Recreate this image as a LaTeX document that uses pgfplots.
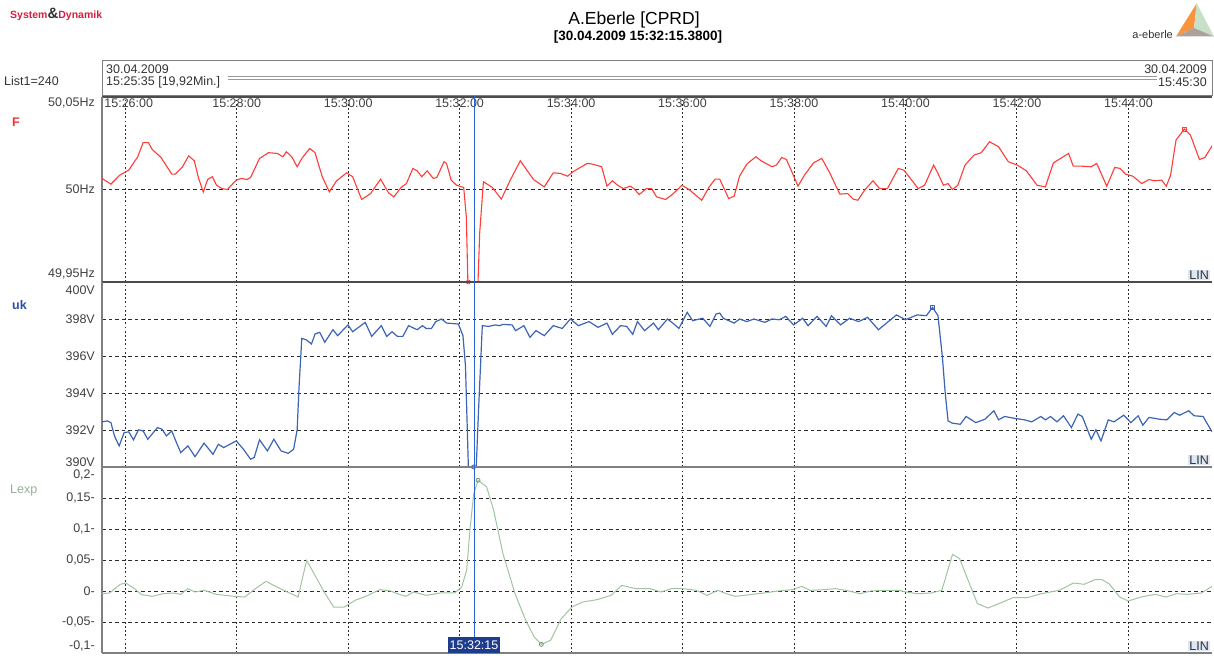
\documentclass[border=0pt]{standalone}
\usepackage{fontspec}
\setmainfont{Liberation Sans}
\usepackage{pgfplots}
\pgfplotsset{compat=1.18}
\definecolor{fred}{RGB}{255,60,55}
\definecolor{ukblue}{RGB}{60,100,180}
\definecolor{lexpg}{RGB}{160,196,160}
\definecolor{gridc}{RGB}{40,45,40}
\definecolor{curbg}{RGB}{30,60,140}
\definecolor{linbg}{RGB}{220,230,245}
\definecolor{sdred}{RGB}{215,30,60}
\definecolor{labF}{RGB}{240,50,50}
\definecolor{labuk}{RGB}{40,80,170}
\definecolor{lablexp}{RGB}{150,175,150}
\definecolor{logoor}{RGB}{247,148,60}
\definecolor{logogr}{RGB}{200,224,200}
\definecolor{logogy}{RGB}{170,162,155}
\pgfplotsset{panel/.style={
  scale only axis, width=1110pt,
  xmin=25.58333, xmax=45.5,
  xtick={26,28,...,44},
  xmajorgrids, ymajorgrids,
  x grid style={gridc, line width=1pt, dash pattern=on 1.8pt off 2.4pt},
  y grid style={gridc, line width=1pt, dash pattern=on 3.5pt off 3pt},
  major tick length=0pt,
  axis x line=box, axis y line=left,
  every outer y axis line/.append style={-},
  every outer x axis line/.append style={-},
  x axis line style={-, black!70, line width=1.2pt},
  y axis line style={-, gray, line width=1.5pt},
  tick label style={font=\fontsize{12.5}{14}\selectfont, text=black!75, inner sep=0pt},
  yticklabel style={anchor=east, xshift=-7pt},
  clip mode=individual,
  anchor=north west,
}}
\newcommand{\txt}{\fontsize{12.5}{14}\selectfont}
\begin{document}
\begin{tikzpicture}
\path[use as bounding box] (0,0) rectangle (1214pt,657pt);

% ---------- F panel ----------
\begin{axis}[panel, at={(102pt,560pt)}, height=185pt,
  ymin=49.95, ymax=50.05, ytick={50}, yticklabels={50Hz},
  xticklabel pos=upper,
  xticklabels={\hspace*{7pt}15:26:00,15:28:00,15:30:00,15:32:00,15:34:00,15:36:00,15:38:00,15:40:00,15:42:00,15:44:00},
  xticklabel style={anchor=north, yshift=-1.5pt}]
\addplot[fred, line width=1.1pt] coordinates {
(25.583,50.0060)(25.743,50.0029)(25.904,50.0078)(26.064,50.0105)(26.225,50.0177)
(26.321,50.0253)(26.418,50.0253)(26.482,50.0217)(26.643,50.0173)(26.835,50.0083)
(26.900,50.0083)(27.028,50.0123)(27.138,50.0182)(27.240,50.0155)(27.317,50.0060)
(27.401,49.9986)(27.478,50.0054)(27.562,50.0069)(27.639,50.0023)(27.735,50.0005)
(27.832,50.0000)(27.992,50.0051)(28.089,50.0060)(28.185,50.0054)(28.249,50.0065)
(28.410,50.0168)(28.571,50.0199)(28.731,50.0195)(28.828,50.0177)(28.892,50.0204)
(28.988,50.0177)(29.085,50.0123)(29.168,50.0168)(29.310,50.0222)(29.406,50.0199)
(29.535,50.0069)(29.663,49.9987)(29.792,50.0047)(29.972,50.0090)(30.081,50.0069)
(30.242,49.9946)(30.402,49.9978)(30.582,50.0056)(30.724,49.9982)(30.820,49.9960)
(30.949,50.0011)(31.045,50.0032)(31.161,50.0114)(31.238,50.0101)(31.321,50.0069)
(31.418,50.0101)(31.527,50.0060)(31.591,50.0065)(31.720,50.0150)(31.765,50.0141)
(31.848,50.0051)(31.945,50.0023)(32.073,50.0011)(32.120,49.9853)(32.148,49.9500)
(32.157,49.9500)(32.330,49.9500)(32.360,49.9765)(32.427,50.0042)(32.587,50.0011)
(32.748,49.9948)(32.909,50.0051)(33.089,50.0155)(33.326,50.0054)(33.519,50.0014)
(33.680,50.0090)(33.808,50.0087)(33.937,50.0072)(34.033,50.0096)(34.290,50.0141)
(34.387,50.0137)(34.548,50.0123)(34.644,50.0018)(34.740,50.0047)(34.837,50.0023)
(34.933,50.0005)(35.062,50.0018)(35.126,50.0005)(35.222,49.9973)(35.351,50.0005)
(35.447,50.0005)(35.534,49.9960)(35.696,49.9946)(35.825,49.9975)(35.987,50.0023)
(36.117,50.0000)(36.214,49.9975)(36.343,49.9942)(36.472,50.0011)(36.583,50.0056)
(36.667,50.0056)(36.828,49.9951)(36.926,49.9964)(37.023,50.0072)(37.152,50.0137)
(37.314,50.0177)(37.411,50.0155)(37.605,50.0123)(37.683,50.0132)(37.780,50.0173)
(37.864,50.0162)(37.974,50.0087)(38.071,50.0018)(38.188,50.0078)(38.350,50.0144)
(38.498,50.0168)(38.641,50.0090)(38.822,49.9975)(38.964,49.9978)(39.061,49.9948)
(39.146,49.9942)(39.275,50.0000)(39.417,50.0047)(39.534,50.0005)(39.676,50.0005)
(39.871,50.0114)(39.968,50.0105)(40.065,50.0069)(40.227,50.0005)(40.343,50.0023)
(40.505,50.0132)(40.583,50.0087)(40.680,50.0023)(40.764,50.0032)(40.841,50.0000)
(40.939,50.0023)(41.068,50.0132)(41.230,50.0186)(41.359,50.0199)(41.508,50.0258)
(41.670,50.0231)(41.845,50.0150)(42.006,50.0132)(42.168,50.0101)(42.362,50.0023)
(42.511,50.0014)(42.654,50.0144)(42.783,50.0168)(42.926,50.0195)(43.010,50.0126)
(43.172,50.0126)(43.333,50.0123)(43.430,50.0141)(43.612,50.0018)(43.754,50.0119)
(43.851,50.0114)(43.948,50.0083)(44.078,50.0072)(44.239,50.0032)(44.369,50.0054)
(44.466,50.0047)(44.595,50.0051)(44.680,50.0018)(44.757,50.0078)(44.854,50.0267)
(45.003,50.0327)(45.113,50.0294)(45.275,50.0162)(45.372,50.0173)(45.500,50.0236)
};
\addplot[only marks, mark=o, mark size=2pt, fred, line width=0.8pt] coordinates {(32.157,49.95)};
\addplot[only marks, mark=square, mark size=2pt, fred, line width=0.8pt] coordinates {(45.003,50.0327)};
\end{axis}

% ---------- uk panel ----------
\begin{axis}[panel, at={(102pt,375pt)}, height=185pt,
  ymin=390, ymax=400, ytick={392,394,396,398}, yticklabels={392V,394V,396V,398V},
  xticklabels={}]
\addplot[ukblue, line width=1.2pt] coordinates {
(25.583,392.44)(25.679,392.49)(25.743,392.40)(25.807,391.68)(25.891,391.14)
(25.981,391.86)(26.064,391.90)(26.148,391.47)(26.238,392.01)(26.321,391.95)
(26.405,391.50)(26.578,392.13)(26.662,392.04)(26.739,391.68)(26.835,391.95)
(26.919,391.32)(26.996,390.78)(27.125,391.14)(27.253,390.56)(27.414,391.29)
(27.575,390.69)(27.671,391.23)(27.767,391.05)(27.992,391.41)(28.121,390.96)
(28.249,390.42)(28.314,390.51)(28.410,391.47)(28.551,390.87)(28.667,391.50)
(28.796,390.87)(28.924,390.74)(29.021,390.96)(29.085,392.01)(29.117,394.21)
(29.168,396.95)(29.245,396.88)(29.342,396.65)(29.406,397.19)(29.490,397.28)
(29.580,396.74)(29.728,397.42)(29.811,397.10)(29.997,397.68)(30.081,397.31)
(30.306,397.82)(30.422,397.06)(30.595,397.64)(30.692,397.06)(30.788,397.31)
(30.884,397.06)(30.981,397.06)(31.084,397.64)(31.238,397.42)(31.334,397.64)
(31.398,397.49)(31.495,397.49)(31.572,397.86)(31.675,398.00)(31.765,397.78)
(31.977,397.73)(32.060,397.10)(32.105,395.47)(32.157,390.00)(32.298,390.00)
(32.343,393.31)(32.407,397.64)(32.523,397.60)(32.639,397.68)(32.716,397.64)
(32.780,397.71)(32.941,397.68)(33.005,397.37)(33.153,397.64)(33.262,397.01)
(33.371,397.37)(33.519,397.10)(33.680,397.64)(33.841,397.49)(33.988,398.00)
(34.130,397.64)(34.322,397.86)(34.483,397.55)(34.644,397.78)(34.740,397.17)
(34.888,397.64)(34.997,397.60)(35.107,397.17)(35.190,397.86)(35.319,397.37)
(35.479,397.78)(35.566,397.42)(35.728,398.00)(35.825,397.78)(35.935,397.49)
(36.052,398.18)(36.084,398.36)(36.181,397.91)(36.362,398.04)(36.492,397.60)
(36.602,398.27)(36.667,398.32)(36.731,398.04)(36.926,397.78)(37.023,398.00)
(37.152,397.86)(37.282,398.00)(37.476,397.82)(37.605,398.00)(37.735,397.96)
(37.851,398.14)(37.993,397.68)(38.155,398.04)(38.252,397.64)(38.414,398.14)
(38.576,397.60)(38.673,398.18)(38.835,397.68)(38.997,398.04)(39.159,397.86)
(39.320,398.09)(39.515,397.42)(39.676,397.82)(39.838,398.22)(40.000,397.96)
(40.207,398.22)(40.375,398.18)(40.485,398.63)(40.583,398.18)(40.660,396.01)
(40.712,394.03)(40.764,392.49)(40.841,392.37)(40.984,392.31)(41.087,392.73)
(41.262,392.40)(41.424,392.58)(41.586,393.04)(41.670,392.55)(41.780,392.73)
(41.974,392.62)(42.136,392.55)(42.265,392.44)(42.427,392.73)(42.511,392.55)
(42.602,392.73)(42.718,392.44)(42.835,392.77)(42.977,392.13)(43.094,392.86)
(43.172,392.73)(43.333,391.50)(43.417,392.01)(43.508,391.41)(43.638,392.55)
(43.741,392.44)(43.916,392.80)(44.045,392.40)(44.175,392.77)(44.259,392.26)
(44.369,392.68)(44.563,392.58)(44.692,392.55)(44.822,392.95)(44.919,392.80)
(45.081,393.04)(45.178,392.77)(45.340,392.73)(45.500,391.90)
};
\addplot[only marks, mark=o, mark size=2pt, ukblue, line width=0.8pt] coordinates {(32.25,390)};
\addplot[only marks, mark=square, mark size=2pt, ukblue, line width=0.8pt] coordinates {(40.485,398.63)};
\end{axis}

% ---------- Lexp panel ----------
\begin{axis}[panel, at={(102pt,190pt)}, height=186pt,
  ymin=-0.1, ymax=0.2, ytick={-0.05,0,0.05,0.1,0.15},
  yticklabels={-0\rlap{,}\phantom{,}05-,0-,0\rlap{,}\phantom{,}05-,0\rlap{,}\phantom{,}1-,0\rlap{,}\phantom{,}15-},
  xticklabels={},
  x axis line style={-, gray, line width=1.8pt}]
\addplot[lexpg, line width=1pt] coordinates {
(25.583,-0.0043)(25.719,-0.0032)(25.911,0.0108)(26.013,0.0129)(26.166,0.0038)
(26.294,-0.0059)(26.485,-0.0086)(26.677,-0.0043)(26.868,-0.0032)(26.996,-0.0054)
(27.123,0.0038)(27.251,-0.0016)(27.417,0.0011)(27.634,-0.0054)(27.953,-0.0086)
(28.144,-0.0097)(28.336,0.0038)(28.527,0.0156)(28.719,0.0065)(28.910,-0.0016)
(29.101,-0.0097)(29.255,0.0495)(29.421,0.0226)(29.587,-0.0043)(29.740,-0.0258)
(29.931,-0.0258)(30.123,-0.0151)(30.314,-0.0086)(30.570,0.0022)(30.761,0)
(30.914,-0.0054)(31.041,-0.0086)(31.169,-0.0016)(31.399,-0.0070)(31.654,-0.0032)
(31.909,-0.0032)(32.037,0.0065)(32.126,0.0334)(32.190,0.1033)(32.254,0.1571)
(32.331,0.1786)(32.484,0.1679)(32.611,0.1302)(32.777,0.0603)(32.994,-0.0043)
(33.186,-0.0473)(33.339,-0.0742)(33.466,-0.0861)(33.632,-0.0796)(33.824,-0.0447)
(34.015,-0.0258)(34.207,-0.0178)(34.462,-0.0140)(34.717,-0.0070)(34.909,0.0091)
(35.164,0.0038)(35.419,0.0038)(35.611,-0.0016)(35.802,0.0038)(35.994,0.0038)
(36.249,0.0011)(36.440,-0.0070)(36.632,0.0011)(36.785,-0.0043)(36.951,-0.0086)
(37.206,-0.0059)(37.461,-0.0032)(37.717,0)(37.972,0.0022)(38.138,0.0075)
(38.291,0.0011)(38.546,0.0022)(38.738,0.0038)(38.929,0.0011)(39.184,-0.0043)
(39.376,0)(39.631,0.0011)(39.886,0.0011)(40.014,-0.0016)(40.205,-0.0043)
(40.461,-0.0032)(40.652,0.0011)(40.844,0.0592)(40.971,0.0522)(41.124,0.0172)
(41.290,-0.0204)(41.482,-0.0274)(41.673,-0.0204)(41.929,-0.0108)(42.184,-0.0108)
(42.439,-0.0043)(42.758,0.0011)(43.014,0.0129)(43.205,0.0108)(43.397,0.0183)
(43.524,0.0183)(43.652,0.0118)(43.843,-0.0097)(43.996,-0.0161)(44.226,-0.0097)
(44.481,-0.0054)(44.673,-0.0097)(44.864,-0.0043)(45.056,-0.0054)(45.311,-0.0032)
(45.500,0.0075)
};
\addplot[only marks, mark=o, mark size=2pt, lexpg!70!black, line width=0.7pt] coordinates {(32.331,0.1786)(33.466,-0.0861)};
\end{axis}

% ---------- cursor line ----------
\draw[color={rgb,255:red,40;green,100;blue,215}, line width=1pt] (474pt,561pt) -- (474pt,12pt);

% ---------- header ----------
\node[anchor=west, inner sep=0pt] at (10pt,643pt) {\bfseries\fontsize{10.5}{12}\selectfont\color{sdred}System{\color{black!80}\fontsize{15}{15}\selectfont\&}Dynamik};
\node[inner sep=0pt] at (634pt,637pt) {\fontsize{17.5}{20}\selectfont A.Eberle [CPRD]};
\node[inner sep=0pt] at (638pt,620pt) {\bfseries\fontsize{13.5}{16}\selectfont [30.04.2009 15:32:15.3800]};
\node[anchor=east, inner sep=0pt] at (1173pt,622pt) {\fontsize{11}{13}\selectfont\color{black!80}a-eberle};
\fill[logoor] (1196.7pt,653.7pt) -- (1194pt,629pt) -- (1176pt,620.5pt) -- cycle;
\fill[logogr] (1196.7pt,653.7pt) -- (1194pt,629pt) -- (1214pt,620.5pt) -- cycle;
\fill[logogy] (1176pt,620.5pt) -- (1194pt,629pt) -- (1214pt,620.5pt) -- cycle;

\node[anchor=west, inner sep=0pt] at (4pt,576pt) {\txt\color{black!80}List1=240};
\draw[gray, line width=1pt] (102pt,596pt) rectangle (1212pt,561pt);
\draw[gray!80, line width=0.8pt] (228pt,580.5pt) -- (1157pt,580.5pt);
\draw[gray!80, line width=0.8pt] (228pt,578pt) -- (1157pt,578pt);
\node[anchor=west, inner sep=0pt] at (106pt,588pt) {\txt\color{black!80}30.04.2009};
\node[anchor=west, inner sep=0pt] at (106pt,575pt) {\txt\color{black!80}15:25:35 [19,92Min.]};
\node[anchor=east, inner sep=0pt] at (1207pt,588pt) {\txt\color{black!80}30.04.2009};
\node[anchor=east, inner sep=0pt] at (1207pt,575pt) {\txt\color{black!80}15:45:30};

% ---------- panel names ----------
\node[anchor=west, inner sep=0pt] at (12pt,535pt) {\bfseries\fontsize{12.5}{14}\selectfont\color{labF}F};
\node[anchor=west, inner sep=0pt] at (12pt,352pt) {\bfseries\fontsize{12.5}{14}\selectfont\color{labuk}uk};
\node[anchor=west, inner sep=0pt] at (10pt,167pt) {\fontsize{12.5}{14}\selectfont\color{lablexp}Lexp};

% ---------- extreme axis labels ----------
\node[anchor=east, inner sep=0pt] at (95pt,554pt) {\txt\color{black!75}50,05Hz};
\node[anchor=east, inner sep=0pt] at (95pt,383pt) {\txt\color{black!75}49,95Hz};
\node[anchor=east, inner sep=0pt] at (95pt,367pt) {\txt\color{black!75}400V};
\node[anchor=east, inner sep=0pt] at (95pt,195pt) {\txt\color{black!75}390V};
\node[anchor=east, inner sep=0pt] at (95pt,182pt) {\txt\color{black!75}0,2-};
\node[anchor=east, inner sep=0pt] at (95pt,11pt) {\txt\color{black!75}-0,1-};

% ---------- LIN boxes ----------
\node[anchor=south east, fill=linbg, inner sep=1pt] at (1210pt,376.5pt) {\txt\color{black!80}LIN};
\node[anchor=south east, fill=linbg, inner sep=1pt] at (1210pt,191.5pt) {\txt\color{black!80}LIN};
\node[anchor=south east, fill=linbg, inner sep=1pt] at (1210pt,5.5pt) {\txt\color{black!80}LIN};

% ---------- cursor label ----------
\node[fill=curbg, text=white, inner sep=1.5pt, minimum height=16pt] at (474pt,12pt) {\txt 15:32:15};
\end{tikzpicture}
\end{document}
